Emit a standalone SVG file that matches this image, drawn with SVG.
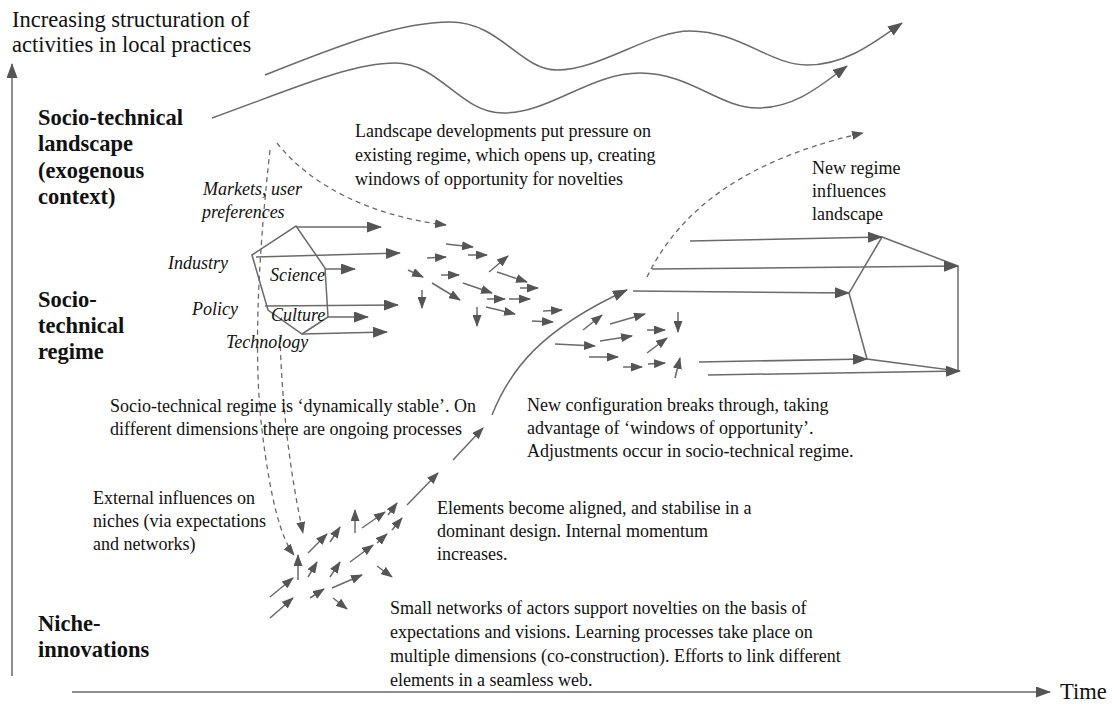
<svg xmlns="http://www.w3.org/2000/svg" width="1112" height="707" viewBox="0 0 1112 707">
<style>
.t{font-family:"Liberation Serif","Times New Roman",serif;font-size:18px;fill:#111}
.lb{font-family:"Liberation Serif","Times New Roman",serif;font-size:22.5px;fill:#111}
.b{font-weight:bold}
.i{font-style:italic}
.ln{fill:none;stroke:#6a6a6a;stroke-width:1.5}
.ds{fill:none;stroke:#6a6a6a;stroke-width:1.3;stroke-dasharray:5 4}
.a{marker-end:url(#ah)}
.s{marker-end:url(#as)}
</style>
<defs>
<marker id="ah" markerWidth="15" markerHeight="11" refX="14" refY="5.5" orient="auto" markerUnits="userSpaceOnUse"><path d="M0,0 L15,5.5 L0,11 z" fill="#555"/></marker>
<marker id="as" markerWidth="12" markerHeight="9" refX="11" refY="4.5" orient="auto" markerUnits="userSpaceOnUse"><path d="M0,0 L12,4.5 L0,9 z" fill="#555"/></marker>
</defs>

<g id="axes">
<path class="ln a" d="M12,676 L12,64"/>
<path class="ln a" d="M72,692 L1050,692"/>
</g>

<g id="labels">
<text class="lb" x="12" y="27">Increasing structuration of</text>
<text class="lb" x="12" y="52">activities in local practices</text>
<text class="lb b" x="38" y="125">Socio-technical</text>
<text class="lb b" x="38" y="151">landscape</text>
<text class="lb b" x="38" y="178">(exogenous</text>
<text class="lb b" x="38" y="204">context)</text>
<text class="lb b" x="38" y="307">Socio-</text>
<text class="lb b" x="38" y="333">technical</text>
<text class="lb b" x="38" y="359">regime</text>
<text class="lb b" x="38" y="631">Niche-</text>
<text class="lb b" x="38" y="657">innovations</text>
<text class="lb" x="1060" y="699">Time</text>
</g>

<g id="connectors">
<path class="ln a" d="M265,75 C340,45 400,22 450,22 C500,22 520,70 557,70 C600,70 650,31 690,31 C740,31 770,65 807,65 C845,65 872,44 902,23"/>
<path class="ln a" d="M212,118 C290,90 350,63 395,63 C440,63 460,113 503,113 C550,113 590,73 640,73 C690,73 720,108 757,108 C795,108 820,86 847,66"/>
<path class="ds s" d="M277,143 C310,185 370,216 446,225"/>
<path class="ds s" d="M270,150 Q250,330 262,430 T294,555"/>
<path class="ds s" d="M280,337 Q283,440 303,533"/>
<path class="ds s" d="M647,277 C670,230 720,165 863,133"/>
<path class="ln s" d="M407,505 L438,473"/>
<path class="ln s" d="M453,460 L483,428"/>
<path class="ln a" d="M492,415 C510,370 540,330 627,290"/>
</g>

<g id="regime-old">
<path class="ln" d="M252,255 L296,226 L325,268 L328,317 L302,334 L268,310 Z"/>
<g class="t i">
<text x="203" y="195">Markets, user</text>
<text x="202" y="218">preferences</text>
<text x="168" y="269">Industry</text>
<text x="270" y="281">Science</text>
<text x="192" y="315">Policy</text>
<text x="271" y="321">Culture</text>
<text x="226" y="348">Technology</text>
</g>
<path class="ln a" d="M297,227 L381,227"/>
<path class="ln a" d="M256,257 L400,253"/>
<path class="ln a" d="M325,269 L355,269"/>
<path class="ln a" d="M265,306 L398,305"/>
<path class="ln a" d="M328,317 L368,317"/>
<path class="ln a" d="M302,334 L387,332"/>
</g>

<g id="regime-cluster">
<path class="ln s" d="M446,244 L473,247"/>
<path class="ln s" d="M468,255 L487,255"/>
<path class="ln s" d="M427,258 L446,257"/>
<path class="ln s" d="M489,272 L508,256"/>
<path class="ln s" d="M408,270 L423,277"/>
<path class="ln s" d="M441,275 L459,275"/>
<path class="ln s" d="M497,272 L527,282"/>
<path class="ln s" d="M520,288 L538,288"/>
<path class="ln s" d="M432,283 L460,300"/>
<path class="ln s" d="M422,290 L422,308"/>
<path class="ln s" d="M463,283 L492,293"/>
<path class="ln s" d="M487,299 L505,299"/>
<path class="ln s" d="M509,299 L530,299"/>
<path class="ln s" d="M486,307 L515,314"/>
<path class="ln s" d="M477,307 L477,326"/>
<path class="ln s" d="M543,311 L562,310"/>
<path class="ln s" d="M532,321 L553,322"/>
</g>

<g id="breakthrough-cluster">
<path class="ln s" d="M583,330 L602,315"/>
<path class="ln s" d="M610,324 L645,314"/>
<path class="ln s" d="M647,330 L665,330"/>
<path class="ln s" d="M678,312 L678,332"/>
<path class="ln s" d="M555,344 L595,346"/>
<path class="ln s" d="M600,341 L632,336"/>
<path class="ln s" d="M647,353 L667,338"/>
<path class="ln s" d="M589,357 L618,357"/>
<path class="ln s" d="M623,367 L642,367"/>
<path class="ln s" d="M648,364 L665,363"/>
<path class="ln s" d="M675,378 L680,358"/>
</g>

<g id="regime-new">
<path class="ln" d="M882,237 L958,266 L958,371 L867,359 L849,293 Z"/>
<path class="ln a" d="M690,241 L882,237"/>
<path class="ln a" d="M652,269 L958,266"/>
<path class="ln a" d="M633,291 L849,293"/>
<path class="ln a" d="M699,362 L867,359"/>
<path class="ln a" d="M708,375 L960,371"/>
</g>

<g id="niche-cluster">
<path class="ln s" d="M270,597 L293,578"/>
<path class="ln s" d="M270,618 L293,598"/>
<path class="ln s" d="M298,580 L298,555"/>
<path class="ln s" d="M308,553 L327,534"/>
<path class="ln s" d="M330,542 L340,527"/>
<path class="ln s" d="M308,577 L317,562"/>
<path class="ln s" d="M330,577 L340,562"/>
<path class="ln s" d="M310,598 L324,589"/>
<path class="ln s" d="M332,588 L362,575"/>
<path class="ln s" d="M333,598 L347,609"/>
<path class="ln s" d="M350,562 L373,545"/>
<path class="ln s" d="M377,543 L387,534"/>
<path class="ln s" d="M377,566 L392,577"/>
<path class="ln s" d="M355,533 L355,510"/>
<path class="ln s" d="M362,528 L385,512"/>
<path class="ln s" d="M388,515 L397,503"/>
<path class="ln s" d="M392,530 L402,518"/>
</g>

<g id="texts" class="t">
<text x="355" y="137">Landscape developments put pressure on</text>
<text x="355" y="161">existing regime, which opens up, creating</text>
<text x="355" y="185">windows of opportunity for novelties</text>
<text x="812" y="174">New regime</text>
<text x="812" y="197">influences</text>
<text x="812" y="220">landscape</text>
<text x="110" y="412">Socio-technical regime is ‘dynamically stable’. On</text>
<text x="110" y="435">different dimensions there are ongoing processes</text>
<text x="527" y="411">New configuration breaks through, taking</text>
<text x="527" y="434">advantage of ‘windows of opportunity’.</text>
<text x="527" y="457">Adjustments occur in socio-technical regime.</text>
<text x="93" y="504">External influences on</text>
<text x="93" y="527">niches (via expectations</text>
<text x="93" y="550">and networks)</text>
<text x="437" y="514">Elements become aligned, and stabilise in a</text>
<text x="437" y="537">dominant design. Internal momentum</text>
<text x="437" y="560">increases.</text>
<text x="390" y="614">Small networks of actors support novelties on the basis of</text>
<text x="390" y="638">expectations and visions. Learning processes take place on</text>
<text x="390" y="662">multiple dimensions (co-construction). Efforts to link different</text>
<text x="390" y="686">elements in a seamless web.</text>
</g>
</svg>
